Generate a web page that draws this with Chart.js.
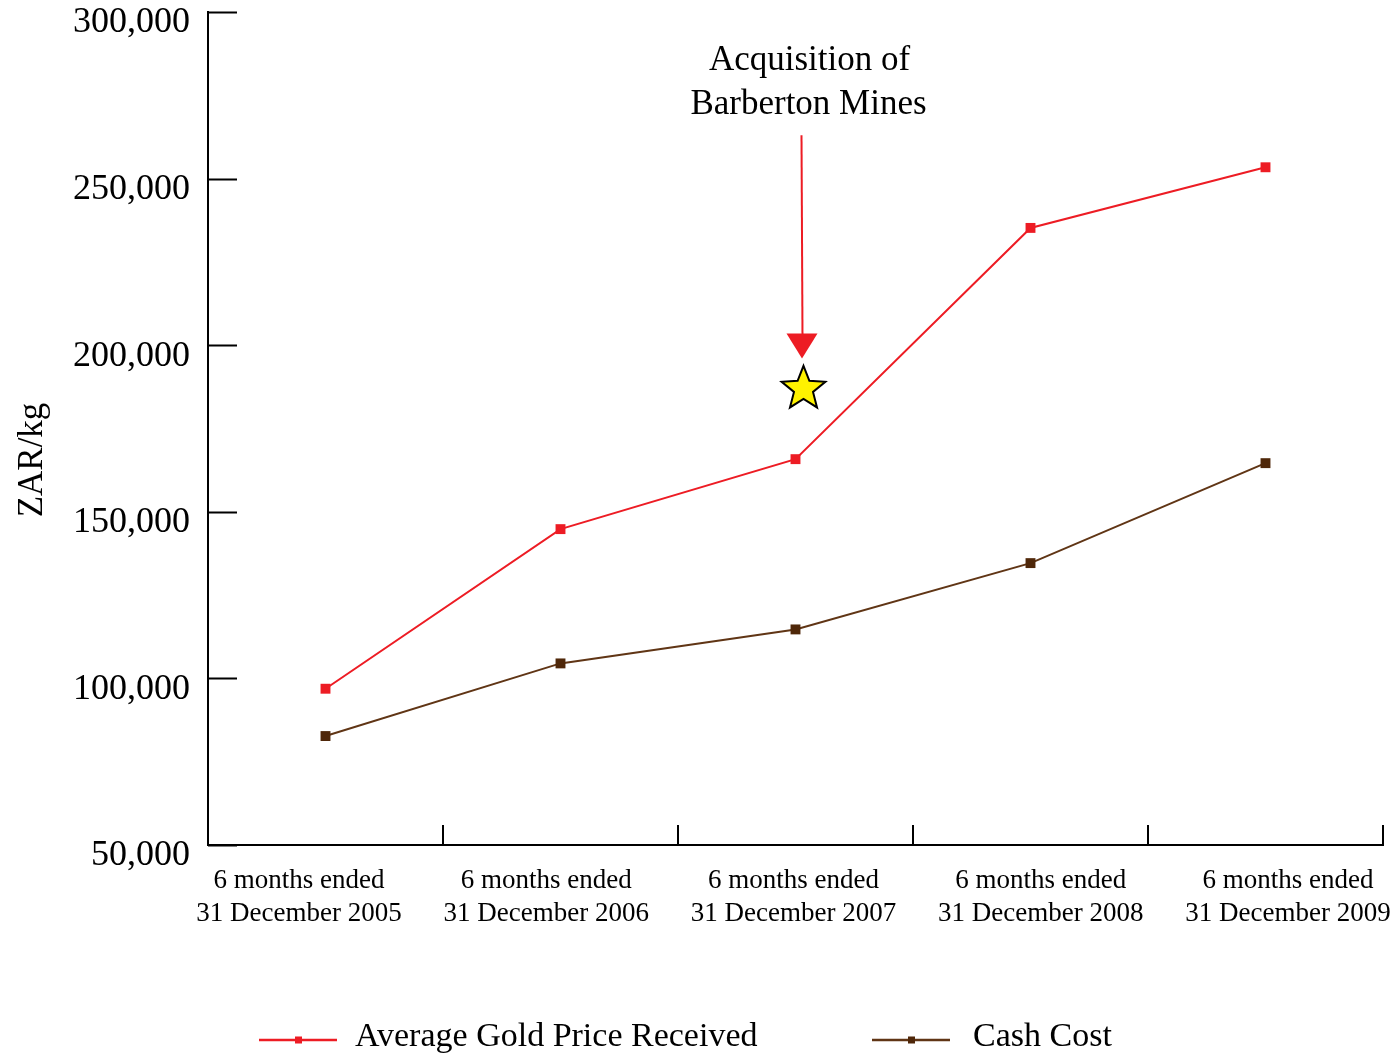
<!DOCTYPE html>
<html>
<head>
<meta charset="utf-8">
<title>ZAR/kg – Gold Price vs Cash Cost</title>
<script src="https://cdn.jsdelivr.net/npm/chart.js@4.4.1/dist/chart.umd.min.js"></script>
<style>
  html, body { margin: 0; padding: 0; background: #ffffff; }
  #wrap { width: 1395px; height: 1054px; position: relative; }
</style>
</head>
<body>
<div id="wrap"><canvas id="chart" width="1395" height="1054"></canvas></div>
<script>
// Half-year periods (two-line labels)
const periods = [
  ['6 months ended', '31 December 2005'],
  ['6 months ended', '31 December 2006'],
  ['6 months ended', '31 December 2007'],
  ['6 months ended', '31 December 2008'],
  ['6 months ended', '31 December 2009']
];

// ZAR per kilogram
const goldPrice = [96900, 144800, 165800, 235200, 253400];
const cashCost  = [82700, 104500, 114700, 134600, 164600];

const seriesNames = ['Average Gold Price Received', 'Cash Cost'];
const yTitle = 'ZAR/kg';
const yMin = 50000, yMax = 300000, yStep = 50000;

const noteLines = ['Acquisition of', 'Barberton Mines'];
const notePeriod = 2;          // index of the period the note points at
const noteArrowTop = 263000;   // arrow starts here (ZAR/kg scale)
const noteArrowTip = 196000;
const noteStarAt = 186900;

const FONT = '"Liberation Serif", "DejaVu Serif", serif';
const RED = '#ed1c24';
const BROWN_LINE = '#603515';
const BROWN_MARK = '#4f2709';

// Inward tick marks on both axes, plus the rotated y-axis title
const axisTicks = {
  id: 'axisTicks',
  afterDatasetsDraw(chart) {
    const { ctx, chartArea: a } = chart;
    const x = chart.scales.x, y = chart.scales.y;
    ctx.save();
    ctx.strokeStyle = '#000';
    ctx.lineWidth = 2;
    ctx.beginPath();
    for (let v = yMin; v <= yMax; v += yStep) {
      const py = Math.round(y.getPixelForValue(v)) + 0.5;
      ctx.moveTo(a.left, py);
      ctx.lineTo(a.left + 29, py);
    }
    for (let i = 0; i < periods.length; i++) {
      const px = Math.round(x.getPixelForValue(i + 0.5));
      ctx.moveTo(px, a.bottom);
      ctx.lineTo(px, a.bottom - 20);
    }
    ctx.stroke();

    // y-axis title
    ctx.translate(33, 460);
    ctx.rotate(-Math.PI / 2);
    ctx.fillStyle = '#000';
    ctx.font = '35px ' + FONT;
    ctx.textAlign = 'center';
    ctx.textBaseline = 'middle';
    ctx.fillText(yTitle, 0, 0);
    ctx.restore();
  }
};

// Acquisition note: text, arrow and star
const acquisitionNote = {
  id: 'acquisitionNote',
  afterDatasetsDraw(chart) {
    const { ctx } = chart;
    const x = chart.scales.x, y = chart.scales.y;
    const cx = x.getPixelForValue(notePeriod) + 6;
    const top = y.getPixelForValue(noteArrowTop);
    const tip = y.getPixelForValue(noteArrowTip);
    const starY = y.getPixelForValue(noteStarAt);
    ctx.save();
    ctx.fillStyle = '#000';
    ctx.font = '35px ' + FONT;
    ctx.textAlign = 'center';
    ctx.textBaseline = 'alphabetic';
    ctx.fillText(noteLines[0], cx + 8, 70);
    ctx.fillText(noteLines[1], cx + 7, 114);

    // arrow shaft
    ctx.strokeStyle = RED;
    ctx.lineWidth = 2;
    ctx.beginPath();
    ctx.moveTo(cx, top);
    ctx.lineTo(cx + 1, tip - 20);
    ctx.stroke();
    // arrow head
    ctx.fillStyle = RED;
    ctx.beginPath();
    ctx.moveTo(cx - 15, tip - 25);
    ctx.lineTo(cx + 16, tip - 25);
    ctx.lineTo(cx + 0.5, tip);
    ctx.closePath();
    ctx.fill();

    // star
    const sx = cx + 2, sy = starY, R = 23, r = 10;
    ctx.beginPath();
    for (let k = 0; k < 10; k++) {
      const ang = -Math.PI / 2 + k * Math.PI / 5;
      const rad = k % 2 === 0 ? R : r;
      const px = sx + rad * Math.cos(ang), py = sy + rad * Math.sin(ang);
      if (k === 0) ctx.moveTo(px, py); else ctx.lineTo(px, py);
    }
    ctx.closePath();
    ctx.fillStyle = '#fff200';
    ctx.fill();
    ctx.strokeStyle = '#000';
    ctx.lineWidth = 2;
    ctx.lineJoin = 'miter';
    ctx.stroke();
    ctx.restore();
  }
};

// Bottom legend: line sample with square marker, then the series name
const lineLegend = {
  id: 'lineLegend',
  afterDraw(chart) {
    const { ctx } = chart;
    const items = [
      { x: 259, tx: 355, text: seriesNames[0], line: RED, mark: RED },
      { x: 872, tx: 973, text: seriesNames[1], line: BROWN_LINE, mark: BROWN_MARK }
    ];
    const ly = 1040;
    ctx.save();
    ctx.font = '34px ' + FONT;
    ctx.textBaseline = 'alphabetic';
    ctx.textAlign = 'left';
    items.forEach(it => {
      ctx.strokeStyle = it.line;
      ctx.lineWidth = 2.5;
      ctx.beginPath();
      ctx.moveTo(it.x, ly);
      ctx.lineTo(it.x + 78, ly);
      ctx.stroke();
      ctx.fillStyle = it.mark;
      ctx.fillRect(it.x + 36, ly - 3.5, 7, 7);
      ctx.fillStyle = '#000';
      ctx.fillText(it.text, it.tx, 1046);
    });
    ctx.restore();
  }
};

new Chart(document.getElementById('chart'), {
  type: 'line',
  data: {
    labels: periods.map(p => p.join(' ')),
    datasets: [
      {
        label: seriesNames[0],
        data: goldPrice,
        borderColor: RED,
        backgroundColor: RED,
        borderWidth: 2,
        pointStyle: 'rect',
        pointRadius: 7,
        pointBorderWidth: 0,
        tension: 0,
        xAxisID: 'x'
      },
      {
        label: seriesNames[1],
        data: cashCost,
        borderColor: BROWN_LINE,
        backgroundColor: BROWN_MARK,
        borderWidth: 2,
        pointStyle: 'rect',
        pointRadius: 7,
        pointBorderWidth: 0,
        tension: 0,
        xAxisID: 'x'
      }
    ]
  },
  options: {
    responsive: false,
    animation: false,
    layout: { padding: { top: 12, right: 12, left: 0, bottom: 0 } },
    plugins: {
      legend: { display: false },
      tooltip: { enabled: false }
    },
    scales: {
      x: {
        type: 'category',
        display: false,
        offset: true
      },
      // label row under the category axis
      xl: {
        type: 'linear',
        position: 'bottom',
        min: -0.368,
        max: 4.384,
        grid: { display: false, drawTicks: false },
        border: { display: true, color: '#000', width: 2 },
        ticks: {
          stepSize: 1,
          includeBounds: false,
          autoSkip: false,
          maxRotation: 0,
          padding: 19,
          color: '#000',
          font: { family: FONT, size: 27, lineHeight: 1.22 },
          callback: v => (Number.isInteger(v) && periods[v]) ? periods[v] : ''
        },
        afterFit(s) { s.height = 209; s.paddingLeft = 0; s.paddingRight = 0; }
      },
      y: {
        min: yMin,
        max: yMax,
        grid: { display: false, drawTicks: false },
        border: { display: true, color: '#000', width: 2 },
        ticks: {
          stepSize: yStep,
          padding: 18,
          labelOffset: 11,
          color: '#000',
          font: { family: FONT, size: 36 },
          callback: v => v.toLocaleString('en-US')
        },
        afterFit(s) { s.width = 208; s.paddingTop = 0; s.paddingBottom = 0; }
      }
    }
  },
  plugins: [axisTicks, acquisitionNote, lineLegend]
});
</script>
</body>
</html>
